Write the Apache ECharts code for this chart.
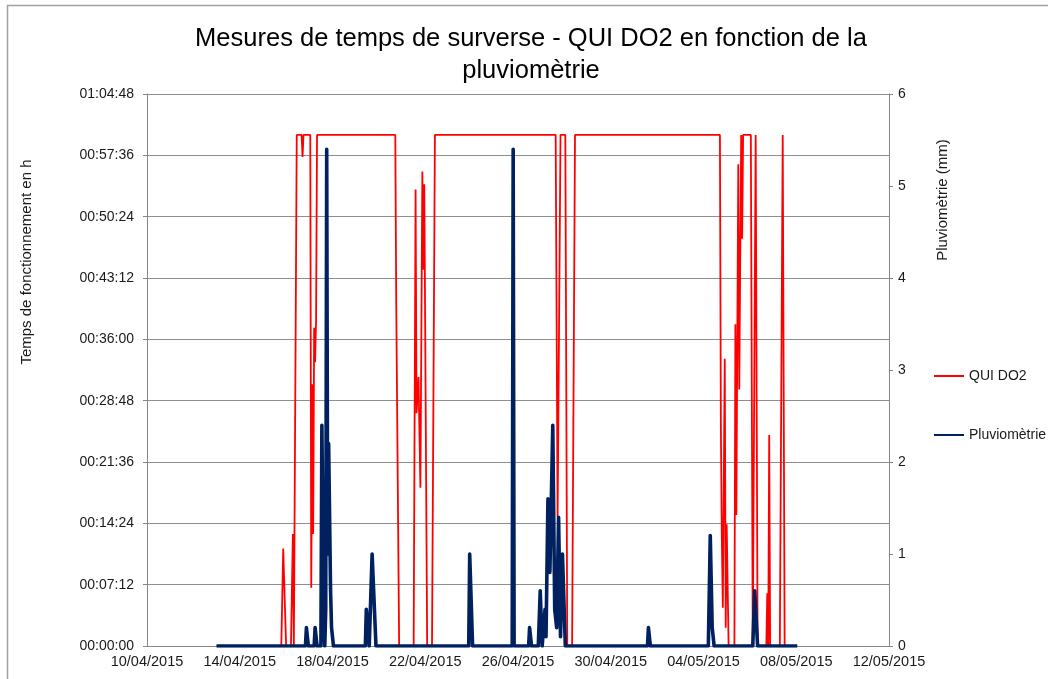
<!DOCTYPE html>
<html>
<head>
<meta charset="utf-8">
<script src="https://cdn.jsdelivr.net/npm/echarts@6/dist/echarts.min.js"></script>
<style>
  html, body { margin: 0; padding: 0; background: #ffffff; }
  #chart { width: 1048px; height: 679px; }
</style>
</head>
<body>
<div id="chart"></div>
<script>
// Overflow duration per hourly record at QUI DO2 (seconds)
const overflowTimes = [
  '2015-04-13 00:00', '2015-04-15 19:00', '2015-04-15 21:00', '2015-04-16 00:00',
  '2015-04-16 05:00', '2015-04-16 07:00', '2015-04-16 08:00', '2015-04-16 11:00',
  '2015-04-16 16:00', '2015-04-16 17:00', '2015-04-16 18:00', '2015-04-17 01:00',
  '2015-04-17 02:00', '2015-04-17 03:00', '2015-04-17 04:00', '2015-04-17 05:00',
  '2015-04-17 06:00', '2015-04-17 07:00', '2015-04-17 08:00', '2015-04-20 17:00',
  '2015-04-20 18:00', '2015-04-20 21:00', '2015-04-21 12:00', '2015-04-21 14:00',
  '2015-04-21 15:00', '2015-04-21 17:00', '2015-04-21 19:00', '2015-04-21 21:00',
  '2015-04-21 22:00', '2015-04-21 23:00', '2015-04-22 02:00', '2015-04-22 07:00',
  '2015-04-22 10:00', '2015-04-27 15:00', '2015-04-27 17:00', '2015-04-27 20:00',
  '2015-04-28 01:00', '2015-04-28 03:00', '2015-04-28 08:00', '2015-04-28 11:00',
  '2015-05-04 17:00', '2015-05-04 18:00', '2015-05-04 19:00', '2015-05-04 20:00',
  '2015-05-04 22:00', '2015-05-04 23:00', '2015-05-05 00:00', '2015-05-05 02:00',
  '2015-05-05 08:00', '2015-05-05 09:00', '2015-05-05 10:00', '2015-05-05 12:00',
  '2015-05-05 13:00', '2015-05-05 15:00', '2015-05-05 16:00', '2015-05-05 17:00',
  '2015-05-06 01:00', '2015-05-06 03:00', '2015-05-06 05:00', '2015-05-06 06:00',
  '2015-05-06 08:00', '2015-05-06 17:00', '2015-05-06 18:00', '2015-05-06 19:00',
  '2015-05-06 20:00', '2015-05-06 21:00', '2015-05-07 07:00', '2015-05-07 10:00',
  '2015-05-07 12:00', '2015-05-08 01:00'
];
const overflowSeconds = [
  0, 0, 686, 0,
  0, 789, 0, 3600,
  3600, 3445, 3600, 3600,
  410, 1844, 789, 2241,
  1998, 2300, 3600, 3600,
  2400, 0, 0, 3215,
  1639, 1895, 1114, 3342,
  2651, 3253, 0, 0,
  3600, 3600, 909, 3600,
  3600, 0, 0, 3600,
  3600, 1537, 743, 269,
  2023, 128, 858, 0,
  0, 2267, 922, 3394,
  1806, 3600, 2869, 3600,
  3600, 0, 0, 3600,
  0, 0, 371, 0,
  1486, 0, 0, 3600,
  0, 0
];

// Hourly rainfall (mm)
const rainTimes = [
  '2015-04-13 00:00', '2015-04-16 20:00', '2015-04-16 21:00', '2015-04-16 22:00',
  '2015-04-16 23:00', '2015-04-17 05:00', '2015-04-17 06:00', '2015-04-17 07:00',
  '2015-04-17 08:00', '2015-04-17 12:00', '2015-04-17 13:00', '2015-04-17 14:00',
  '2015-04-17 15:00', '2015-04-17 16:00', '2015-04-17 17:00', '2015-04-17 18:00',
  '2015-04-17 19:00', '2015-04-17 20:00', '2015-04-17 21:00', '2015-04-17 22:00',
  '2015-04-17 23:00', '2015-04-18 01:00', '2015-04-19 10:00', '2015-04-19 11:00',
  '2015-04-19 12:00', '2015-04-19 14:00', '2015-04-19 17:00', '2015-04-19 18:00',
  '2015-04-19 21:00', '2015-04-23 21:00', '2015-04-23 22:00', '2015-04-23 23:00',
  '2015-04-24 01:00', '2015-04-25 18:00', '2015-04-25 19:00', '2015-04-25 20:00',
  '2015-04-26 11:00', '2015-04-26 12:00', '2015-04-26 13:00', '2015-04-26 14:00',
  '2015-04-26 21:00', '2015-04-26 23:00', '2015-04-27 01:00', '2015-04-27 03:00',
  '2015-04-27 04:00', '2015-04-27 05:00', '2015-04-27 07:00', '2015-04-27 08:00',
  '2015-04-27 09:00', '2015-04-27 10:00', '2015-04-27 12:00', '2015-04-27 13:00',
  '2015-04-27 14:00', '2015-04-27 16:00', '2015-04-27 18:00', '2015-04-27 19:00',
  '2015-04-27 20:00', '2015-04-27 22:00', '2015-04-27 23:00', '2015-04-28 01:00',
  '2015-05-01 14:00', '2015-05-01 15:00', '2015-05-01 16:00', '2015-05-01 17:00',
  '2015-05-04 05:00', '2015-05-04 07:00', '2015-05-04 08:00', '2015-05-04 09:00',
  '2015-05-04 10:00', '2015-05-04 11:00', '2015-05-06 03:00', '2015-05-06 05:00',
  '2015-05-06 06:00', '2015-05-06 08:00', '2015-05-08 01:00'
];
const rainMm = [
  0, 0, 0.2, 0.2,
  0, 0, 0.2, 0.2,
  0, 0, 2.4, 2.4,
  0.2, 0, 0.4, 5.4,
  1.0, 2.2, 2.2, 0.6,
  0.2, 0, 0, 0.4,
  0.4, 0, 1.0, 1.0,
  0, 0, 1.0, 1.0,
  0, 0, 5.4, 0,
  0, 0.2, 0.2, 0,
  0, 0.6, 0, 0,
  0.4, 0.1, 1.6, 1.6,
  0.8, 0.8, 2.4, 2.4,
  0.4, 0.2, 1.4, 1.4,
  0.1, 1.0, 1.0, 0,
  0, 0.2, 0.2, 0,
  0, 1.2, 1.2, 0.2,
  0.2, 0, 0, 0.6,
  0.6, 0, 0
];

// Axis ranges
const axisStartUTC = Date.UTC(2015, 3, 10);   // 10/04/2015
const axisDays = 32;                          // up to 12/05/2015
const dayStep = 4;
const durationMax = 3888;                     // 01:04:48
const durationStep = 432;                     // 00:07:12
const rainMax = 6;
const rainStep = 1;

const FONT = "'Liberation Sans', Arial, sans-serif";
const DAY_MS = 86400000;

function dayOffset(stamp) {
  const [d, t] = stamp.split(' ');
  const [Y, M, D] = d.split('-').map(Number);
  const [h, m] = t.split(':').map(Number);
  return (Date.UTC(Y, M - 1, D, h, m) - axisStartUTC) / DAY_MS;
}
function pad(n) { return String(n).padStart(2, '0'); }
function dateLabel(v) {
  const dt = new Date(axisStartUTC + Math.round(v * DAY_MS));
  return pad(dt.getUTCDate()) + '/' + pad(dt.getUTCMonth() + 1) + '/' + dt.getUTCFullYear();
}
function hms(sec) {
  const s = Math.round(sec);
  return pad(Math.floor(s / 3600)) + ':' + pad(Math.floor((s % 3600) / 60)) + ':' + pad(s % 60);
}

const overflowData = overflowTimes.map((t, i) => [dayOffset(t), overflowSeconds[i]]);
const rainData = rainTimes.map((t, i) => [dayOffset(t), rainMm[i]]);

const chart = echarts.init(document.getElementById('chart'), null, { renderer: 'canvas' });

const axisGray = '#868686';
const labelColor = '#1a1a1a';

chart.setOption({
  animation: false,
  backgroundColor: '#ffffff',
  textStyle: { fontFamily: FONT },
  title: {
    text: 'Mesures de temps de surverse - QUI DO2 en fonction de la\npluviomètrie',
    left: 526,
    top: 18,
    textAlign: 'center',
    textStyle: { fontFamily: FONT, fontSize: 25.5, fontWeight: 'normal', color: '#000000', lineHeight: 32 }
  },
  grid: { left: 147, right: 159, top: 94, bottom: 33, containLabel: false },
  legend: {
    orient: 'vertical',
    left: 928,
    top: 364,
    itemWidth: 30,
    itemHeight: 14,
    itemGap: 45,
    itemStyle: { opacity: 0 },
    textStyle: { fontFamily: FONT, fontSize: 14, color: labelColor },
    data: ['QUI DO2', 'Pluviomètrie']
  },
  xAxis: {
    type: 'value',
    min: 0,
    max: axisDays,
    interval: dayStep,
    axisLine: { show: true, lineStyle: { color: axisGray, width: 1 } },
    axisTick: { show: false },
    splitLine: { show: false },
    axisLabel: { margin: 8, color: labelColor, fontFamily: FONT, fontSize: 14.5, formatter: dateLabel }
  },
  yAxis: [
    {
      type: 'value',
      min: 0,
      max: durationMax,
      interval: durationStep,
      axisLine: { show: true, lineStyle: { color: axisGray, width: 1 } },
      axisTick: { show: true, inside: false, length: 4, lineStyle: { color: axisGray } },
      splitLine: { show: true, lineStyle: { color: '#8e8e8e', width: 1 } },
      axisLabel: { margin: 13, color: labelColor, fontFamily: FONT, fontSize: 14, formatter: hms }
    },
    {
      type: 'value',
      min: 0,
      max: rainMax,
      interval: rainStep,
      position: 'right',
      axisLine: { show: true, lineStyle: { color: axisGray, width: 1 } },
      axisTick: { show: true, inside: false, length: 4, lineStyle: { color: axisGray } },
      splitLine: { show: false },
      axisLabel: { margin: 9, color: labelColor, fontFamily: FONT, fontSize: 14 }
    }
  ],
  series: [
    {
      name: 'QUI DO2',
      type: 'line',
      yAxisIndex: 0,
      data: overflowData,
      symbol: 'none',
      showSymbol: false,
      color: '#ff0000',
      lineStyle: { color: '#ff0000', width: 1.8 },
      z: 2
    },
    {
      name: 'Pluviomètrie',
      type: 'line',
      yAxisIndex: 1,
      data: rainData,
      symbol: 'none',
      showSymbol: false,
      color: '#002060',
      lineStyle: { color: '#002060', width: 3.6, join: 'round' },
      z: 3
    }
  ],
  graphic: [
    {
      type: 'rect',
      silent: true,
      shape: { x: 7.5, y: 5.5, width: 1100, height: 720 },
      style: { fill: 'none', stroke: '#a0a0a0', lineWidth: 1.5 },
      z: -1
    },
    {
      type: 'text',
      x: 27,
      y: 262,
      rotation: Math.PI / 2,
      style: {
        text: 'Temps de fonctionnement en h',
        fill: labelColor,
        font: '15px ' + FONT,
        align: 'center',
        verticalAlign: 'middle'
      }
    },
    {
      type: 'text',
      x: 943,
      y: 200,
      rotation: Math.PI / 2,
      style: {
        text: 'Pluviomètrie (mm)',
        fill: labelColor,
        font: '15px ' + FONT,
        align: 'center',
        verticalAlign: 'middle'
      }
    }
  ]
});
</script>
</body>
</html>
